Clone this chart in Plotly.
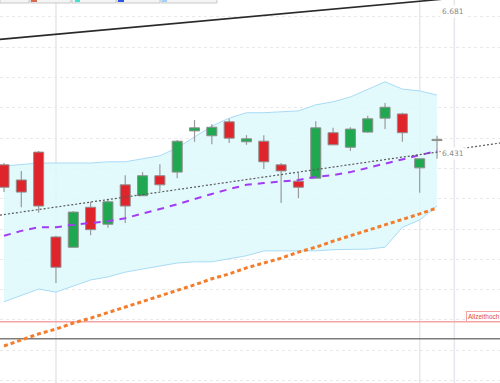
import plotly.graph_objects as go

# ---- data ----
idx = list(range(26))
open_ = [6406, 6381, 6427, 6287, 6270, 6336, 6308, 6373, 6355, 6388, 6394, 6462, 6454,
         6477, 6444, 6445, 6406, 6379, 6384, 6459, 6435, 6460, 6483, 6490, 6401, 6446]
high = [6409, 6396, 6429, 6289, 6330, 6345, 6348, 6389, 6394, 6407, 6447, 6480, 6473,
        6482, 6455, 6455, 6409, 6393, 6478, 6467, 6468, 6487, 6508, 6492, 6416, 6454]
low = [6361, 6336, 6327, 6211, 6270, 6290, 6302, 6310, 6355, 6363, 6384, 6444, 6440,
       6442, 6439, 6399, 6343, 6351, 6384, 6439, 6429, 6459, 6465, 6444, 6360, 6416]
close = [6369, 6361, 6338, 6237, 6328, 6299, 6345, 6338, 6388, 6373, 6445, 6467, 6468,
         6450, 6449, 6411, 6396, 6369, 6467, 6439, 6465, 6482, 6501, 6459, 6416, 6448]

boll_upper = [6404, 6406, 6409, 6409, 6409, 6409, 6411, 6411, 6416, 6421, 6434, 6452, 6470,
              6483, 6492, 6492, 6493, 6495, 6505, 6510, 6518, 6530, 6543, 6531, 6528, 6521]
boll_lower = [6180, 6191, 6201, 6196, 6206, 6216, 6221, 6229, 6234, 6239, 6244, 6246, 6246,
              6251, 6256, 6264, 6264, 6264, 6264, 6266, 6266, 6267, 6270, 6303, 6315, 6338]
sma_short = [6289, 6297, 6303, 6303, 6307, 6310, 6313, 6318, 6325, 6333, 6341, 6350, 6358,
             6366, 6373, 6376, 6378, 6381, 6386, 6389, 6394, 6401, 6407, 6414, 6422, 6429]
sma_long = [6107, 6117, 6127, 6135, 6145, 6153, 6162, 6171, 6180, 6190, 6198, 6208, 6218,
            6226, 6236, 6244, 6252, 6262, 6270, 6280, 6289, 6297, 6307, 6315, 6325, 6335]

trend_x = [-0.231, 28.637]
trend_upper = [6613, 6688]      # black resistance line
trend_mid = [6323, 6442]        # gray dotted trend line
all_time_high = 6147
support_level = 6119
vgrid_x = [3, 24, 26]
label_hi = "6.681"
label_lo = "6.431"
label_ath = "Allzeithoch"

X_RANGE = [-0.231, 28.637]
Y_RANGE = [6046, 6678]
BODY_HALF = 0.29
MIN_BODY = 1.5

# ---- figure ----
fig = go.Figure()

# Bollinger band
fig.add_trace(go.Scatter(x=idx, y=boll_upper, mode="lines",
                         line=dict(color="#a9dbf5", width=1), hoverinfo="skip"))
fig.add_trace(go.Scatter(x=idx, y=boll_lower, mode="lines", fill="tonexty",
                         fillcolor="rgba(222,249,253,0.85)",
                         line=dict(color="#a9dbf5", width=1), hoverinfo="skip"))

# black trend line
fig.add_trace(go.Scatter(x=trend_x, y=trend_upper, mode="lines",
                         line=dict(color="#2a2a2a", width=1.6), hoverinfo="skip"))

# orange long SMA
fig.add_trace(go.Scatter(x=idx, y=sma_long, mode="lines",
                         line=dict(color="#f47d2c", width=3, dash="4px,3px"), hoverinfo="skip"))

# wicks
wx, wy = [], []
for i, h, l in zip(idx, high, low):
    wx += [i, i, None]
    wy += [l, h, None]
fig.add_trace(go.Scatter(x=wx, y=wy, mode="lines",
                         line=dict(color="#9a9a9a", width=1.2), hoverinfo="skip"))

# bodies as filled rectangles (scatter polygons so they sit above the band fill)
for up, col in [(True, "#1fa84f"), (False, "#e0242b")]:
    px, py = [], []
    for i, o, c in zip(idx, open_, close):
        if (c >= o) != up:
            continue
        b, t = min(o, c), max(o, c)
        if t - b < MIN_BODY:
            t = b + MIN_BODY
        px += [i - BODY_HALF, i + BODY_HALF, i + BODY_HALF, i - BODY_HALF, i - BODY_HALF, None]
        py += [b, b, t, t, b, None]
    fig.add_trace(go.Scatter(x=px, y=py, mode="lines", fill="toself", fillcolor=col,
                             line=dict(color="#8f8f8f", width=1), hoverinfo="skip"))

# purple short SMA
fig.add_trace(go.Scatter(x=idx, y=sma_short, mode="lines",
                         line=dict(color="#a23cf2", width=2, dash="7px,6px"), hoverinfo="skip"))

# gray dotted trend line
fig.add_trace(go.Scatter(x=trend_x, y=trend_mid, mode="lines",
                         line=dict(color="#5a5a5a", width=1.2, dash="2px,2px"), hoverinfo="skip"))

shapes = []
for vx in vgrid_x:
    shapes.append(dict(type="line", xref="x", yref="paper", x0=vx, x1=vx, y0=0, y1=1,
                       line=dict(color="#e6e6ec", width=1.5), layer="below"))
shapes.append(dict(type="line", xref="paper", yref="y", x0=0, x1=1,
                   y0=all_time_high, y1=all_time_high,
                   line=dict(color="#f5a5a5", width=1.5), layer="below"))
shapes.append(dict(type="line", xref="paper", yref="y", x0=0, x1=1,
                   y0=support_level, y1=support_level,
                   line=dict(color="#7c7c7c", width=1.3), layer="below"))

# partially visible legend strip at the top
W, H = 500.0, 383.0
legend_boxes = [(0, 29), (30, 71), (72, 116), (117, 160), (161, 217)]
legend_swatch = [(31, 37, "#d9694f"), (75, 80, "#3fe3cf"), (118, 124, "#2f55e0"), (162, 167, "#9fd0ff")]
for a, b in legend_boxes:
    shapes.append(dict(type="rect", xref="paper", yref="paper", x0=a / W, x1=b / W,
                       y0=1 - 3 / H, y1=1.02, fillcolor="#f4f4f4",
                       line=dict(color="#c9c9c9", width=1), layer="above"))
for a, b, col in legend_swatch:
    shapes.append(dict(type="rect", xref="paper", yref="paper", x0=a / W, x1=b / W,
                       y0=1 - 2 / H, y1=1.02, fillcolor=col, line=dict(width=0), layer="above"))

annotations = [
    dict(x=25.92, y=6659, xref="x", yref="y", text=label_hi, showarrow=False,
         font=dict(family="DejaVu Sans", size=7.5, color="#8a8a8a"), bgcolor="white",
         xanchor="center", yanchor="middle"),
    dict(x=25.92, y=6424, xref="x", yref="y", text=label_lo, showarrow=False,
         font=dict(family="DejaVu Sans", size=7.5, color="#8a8a8a"), bgcolor="white",
         xanchor="center", yanchor="middle"),
    dict(x=26.68, y=all_time_high, xref="x", yref="y", text=label_ath, showarrow=False,
         font=dict(family="Liberation Sans", size=6.5, color="#e34848"), bgcolor="white",
         bordercolor="#f3a3a3", borderwidth=1, borderpad=1,
         xanchor="left", yanchor="bottom"),
]

fig.update_layout(
    width=500, height=383,
    margin=dict(l=0, r=0, t=0, b=0),
    paper_bgcolor="white", plot_bgcolor="white",
    showlegend=False,
    shapes=shapes, annotations=annotations,
    xaxis=dict(range=X_RANGE, showgrid=False, zeroline=False, showticklabels=False,
               ticks="", showline=False, fixedrange=True),
    yaxis=dict(range=Y_RANGE, showgrid=True, gridcolor="#e9e9e9", griddash="dot",
               gridwidth=1, dtick=50, tick0=0, zeroline=False, showticklabels=False,
               ticks="", showline=False, fixedrange=True),
)

fig.write_html("out.html")
